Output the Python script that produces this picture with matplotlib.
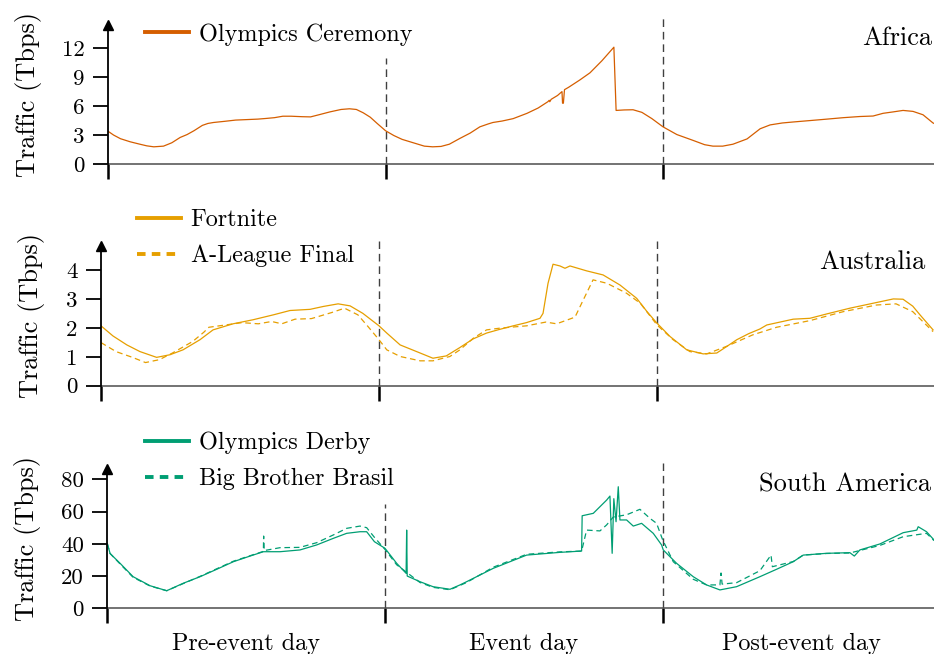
import matplotlib
matplotlib.use("Agg")
import matplotlib.pyplot as plt
from matplotlib.lines import Line2D

plt.rcParams['font.family'] = 'cmr10'
plt.rcParams['mathtext.fontset'] = 'cm'
plt.rcParams['axes.unicode_minus'] = False
plt.rcParams['axes.formatter.use_mathtext'] = True

# ---------------- data (time in days, traffic in Tbps) ----------------
africa_t = [0.000, 0.020, 0.045, 0.080, 0.115, 0.140, 0.165, 0.200, 0.230, 0.260,
            0.285, 0.310, 0.340, 0.360, 0.380, 0.420, 0.460, 0.500, 0.540, 0.570,
            0.600, 0.630, 0.660, 0.700, 0.730, 0.760, 0.800, 0.840, 0.870, 0.895,
            0.920, 0.945, 0.970, 1.000, 1.030, 1.060, 1.100, 1.140, 1.170, 1.200,
            1.230, 1.268, 1.305, 1.340, 1.370, 1.387, 1.420, 1.460, 1.510, 1.550,
            1.585, 1.590, 1.592, 1.597, 1.620, 1.636, 1.638, 1.641, 1.645, 1.660,
            1.700, 1.737, 1.780, 1.823, 1.831, 1.860, 1.892, 1.924, 1.960, 2.000,
            2.050, 2.108, 2.150, 2.180, 2.215, 2.252, 2.303, 2.350, 2.386, 2.430,
            2.468, 2.530, 2.591, 2.650, 2.710, 2.757, 2.793, 2.830, 2.865, 2.901,
            2.937, 2.973, 3.000]
olympics_ceremony = [3.40, 3.00, 2.62, 2.30, 2.05, 1.88, 1.78, 1.85, 2.20, 2.75,
                     3.05, 3.45, 4.00, 4.20, 4.30, 4.42, 4.55, 4.60, 4.65, 4.72,
                     4.80, 4.95, 4.95, 4.90, 4.88, 5.10, 5.40, 5.65, 5.72, 5.65,
                     5.30, 4.85, 4.20, 3.45, 2.95, 2.55, 2.20, 1.85, 1.78, 1.82,
                     2.05, 2.65, 3.20, 3.85, 4.15, 4.30, 4.45, 4.70, 5.25, 5.80,
                     6.45, 6.60, 6.45, 6.70, 7.10, 7.50, 6.30, 6.30, 7.70, 7.95,
                     8.70, 9.45, 10.70, 12.10, 5.55, 5.60, 5.62, 5.35, 4.70, 3.85,
                     3.05, 2.45, 2.00, 1.85, 1.85, 2.05, 2.60, 3.65, 4.05, 4.25,
                     4.35, 4.50, 4.65, 4.80, 4.92, 4.97, 5.25, 5.40, 5.55, 5.45,
                     5.10, 4.25, 3.90]

fortnite_t = [0.000, 0.043, 0.093, 0.140, 0.200, 0.248, 0.295, 0.356, 0.403, 0.475,
              0.547, 0.620, 0.680, 0.752, 0.800, 0.853, 0.896, 0.942, 1.000, 1.028,
              1.076, 1.148, 1.194, 1.242, 1.291, 1.339, 1.387, 1.435, 1.483, 1.530,
              1.579, 1.590, 1.608, 1.626, 1.651, 1.669, 1.687, 1.747, 1.806, 1.867,
              1.927, 1.965, 2.000, 2.047, 2.107, 2.166, 2.215, 2.250, 2.287, 2.330,
              2.370, 2.395, 2.490, 2.550, 2.610, 2.694, 2.777, 2.850, 2.885, 2.920,
              2.946, 2.993]
fortnite = [2.07, 1.72, 1.41, 1.18, 0.98, 1.07, 1.24, 1.59, 1.93, 2.14,
            2.28, 2.45, 2.60, 2.64, 2.74, 2.83, 2.76, 2.50, 2.07, 1.82,
            1.41, 1.13, 0.95, 1.03, 1.32, 1.62, 1.82, 1.95, 2.07, 2.18,
            2.33, 2.50, 3.54, 4.20, 4.14, 4.06, 4.14, 3.97, 3.83, 3.48,
            3.02, 2.55, 2.16, 1.70, 1.24, 1.10, 1.13, 1.35, 1.59, 1.80,
            1.96, 2.10, 2.30, 2.33, 2.48, 2.68, 2.85, 3.00, 2.99, 2.75,
            2.45, 1.93]

aleague_t = [0.000, 0.054, 0.113, 0.160, 0.210, 0.257, 0.330, 0.370, 0.388, 0.448,
             0.507, 0.566, 0.614, 0.650, 0.698, 0.757, 0.830, 0.876, 0.924, 0.960,
             1.000, 1.028, 1.076, 1.148, 1.194, 1.255, 1.291, 1.339, 1.387, 1.435,
             1.531, 1.600, 1.639, 1.705, 1.735, 1.770, 1.820, 1.890, 1.940, 2.000,
             2.058, 2.118, 2.179, 2.250, 2.345, 2.430, 2.550, 2.670, 2.790, 2.860,
             2.920, 2.993]
aleague_final = [1.49, 1.18, 0.98, 0.80, 0.90, 1.13, 1.53, 1.85, 2.02, 2.10,
                 2.18, 2.14, 2.22, 2.14, 2.30, 2.32, 2.53, 2.68, 2.45, 2.05,
                 1.59, 1.24, 1.01, 0.86, 0.86, 1.01, 1.24, 1.64, 1.93, 1.99,
                 2.07, 2.20, 2.14, 2.37, 2.97, 3.66, 3.54, 3.20, 2.85, 2.10,
                 1.59, 1.18, 1.10, 1.36, 1.76, 2.02, 2.25, 2.56, 2.79, 2.83,
                 2.56, 1.87]

derby_t = [0.000, 0.010, 0.046, 0.093, 0.154, 0.214, 0.273, 0.334, 0.394, 0.454,
           0.514, 0.562, 0.622, 0.694, 0.754, 0.814, 0.862, 0.910, 0.934, 0.962,
           1.000, 1.042, 1.076, 1.078, 1.080, 1.126, 1.173, 1.234, 1.270, 1.294,
           1.390, 1.510, 1.630, 1.708, 1.710, 1.750, 1.798, 1.810, 1.818, 1.824,
           1.832, 1.840, 1.846, 1.870, 1.894, 1.924, 1.966, 1.996, 2.002, 2.050,
           2.110, 2.158, 2.206, 2.266, 2.350, 2.410, 2.470, 2.506, 2.590, 2.674,
           2.690, 2.710, 2.782, 2.866, 2.915, 2.920, 2.950, 2.977]
olympics_derby = [40.3, 34.0, 27.9, 19.6, 14.0, 10.9, 15.5, 19.6, 24.2, 28.9,
                  32.4, 35.1, 35.1, 36.2, 39.3, 43.4, 46.5, 47.5, 47.5, 41.3,
                  37.2, 27.9, 21.7, 48.5, 20.0, 16.5, 13.4, 11.8, 14.5, 16.5,
                  24.8, 33.0, 34.7, 35.5, 57.4, 58.9, 67.1, 69.6, 34.1, 68.0,
                  53.7, 75.4, 54.8, 54.8, 51.0, 52.7, 46.5, 39.3, 36.2, 27.9,
                  19.6, 14.5, 11.4, 13.4, 19.6, 24.2, 28.9, 33.0, 34.1, 34.5,
                  32.4, 36.2, 39.9, 46.9, 48.5, 50.6, 47.5, 42.4]

bbb_t = [0.000, 0.010, 0.046, 0.093, 0.154, 0.214, 0.273, 0.334, 0.394, 0.454,
         0.514, 0.562, 0.563, 0.565, 0.622, 0.694, 0.754, 0.814, 0.862, 0.910,
         0.934, 0.962, 1.000, 1.042, 1.126, 1.173, 1.234, 1.294, 1.390, 1.510,
         1.630, 1.708, 1.726, 1.774, 1.798, 1.822, 1.870, 1.918, 1.954, 1.978,
         2.000, 2.038, 2.110, 2.158, 2.206, 2.210, 2.214, 2.266, 2.350, 2.390,
         2.395, 2.470, 2.506, 2.590, 2.674, 2.782, 2.866, 2.950, 2.977]
big_brother_brasil = [40.0, 34.0, 27.5, 19.2, 13.8, 10.9, 15.3, 19.8, 24.5, 29.2,
                      32.6, 35.3, 44.8, 35.8, 37.6, 37.8, 40.7, 45.5, 49.6, 51.0,
                      50.0, 44.0, 36.5, 27.0, 16.0, 13.0, 11.5, 16.0, 25.5, 33.5,
                      35.0, 35.5, 48.5, 48.0, 51.7, 56.6, 58.0, 61.4, 55.8, 52.7,
                      42.4, 28.9, 18.0, 14.5, 14.5, 21.9, 15.0, 15.9, 23.3, 33.0,
                      25.8, 29.0, 33.0, 34.0, 34.3, 39.0, 44.4, 46.5, 42.0]

regions = ["Africa", "Australia", "South America"]
day_labels = ["Pre-event day", "Event day", "Post-event day"]
day_bounds = [1, 2]
yticks_list = [[0, 3, 6, 9, 12], [0, 1, 2, 3, 4], [0, 20, 40, 60, 80]]

C_AF = "#D55E00"
C_AU = "#E69F00"
C_SA = "#009E73"

# ---------------- layout (pixels) ----------------
W, H = 934, 654
fig = plt.figure(figsize=(W / 100, H / 100), dpi=100)

layout = [
    dict(left=108, zero=164, top=25, day=277.5, ytop=14.4, vtops=[11.0, 15.1],
         reg=(932, 45), leg=(145, 23), ylx=42),
    dict(left=101, zero=385.7, top=246, day=278.0, ytop=4.83, vtops=[5.0, 5.0],
         reg=(925, 269), leg=(137, 209), ylx=45),
    dict(left=107.3, zero=608.3, top=469, day=277.7, ytop=86.4, vtops=[64.7, 90.2],
         reg=(931, 491), leg=(145, 432), ylx=41),
]

series = [
    [(africa_t, olympics_ceremony, C_AF, "-", "Olympics Ceremony")],
    [(fortnite_t, fortnite, C_AU, "-", "Fortnite"),
     (aleague_t, aleague_final, C_AU, "--", "A-League Final")],
    [(derby_t, olympics_derby, C_SA, "-", "Olympics Derby"),
     (bbb_t, big_brother_brasil, C_SA, "--", "Big Brother Brasil")],
]

FS = 17.4
for i, (L, ser) in enumerate(zip(layout, series)):
    ax = fig.add_axes([L['left'] / W, (H - L['zero']) / H,
                       3 * L['day'] / W, (L['zero'] - L['top']) / H])
    ax.set_xlim(0, 3)
    ax.set_ylim(0, L['ytop'])
    handles = []
    for t, v, c, ls, lab in ser:
        if ls == "-":
            ax.plot(t, v, color=c, lw=0.9, zorder=3)
            handles.append(Line2D([], [], color=c, lw=2.8, label=lab))
        else:
            ax.plot(t, v, color=c, lw=0.9, ls=(0, (4.5, 3)), zorder=3)
            handles.append(Line2D([], [], color=c, lw=2.8, ls=(0, (2.2, 1.6)), label=lab))
    for b, vt in zip(day_bounds, L['vtops']):
        ax.plot([b, b], [0, vt], color='0.25', lw=1.0, ls=(0, (5.5, 3.5)),
                clip_on=False, zorder=2)
    for s in ['top', 'right']:
        ax.spines[s].set_visible(False)
    ax.spines['left'].set_linewidth(1.3)
    ax.spines['left'].set_zorder(5)
    ax.spines['bottom'].set_color('0.3')
    ax.spines['bottom'].set_linewidth(1.1)
    ax.plot([0], [1], marker='^', color='k', ms=7, transform=ax.transAxes,
            clip_on=False, zorder=6)
    ax.set_yticks(yticks_list[i])
    ax.set_yticklabels([str(y) for y in yticks_list[i]])
    ax.tick_params(axis='y', direction='out', length=10.5, width=1.3,
                   labelsize=16.5, pad=6.5, color='k')
    ax.set_xticks([0, 1, 2, 3])
    ax.tick_params(axis='x', which='major', direction='out', length=10.5,
                   width=1.8, color='k', labelbottom=False)
    if i == 2:
        ax.set_xticks([0.5, 1.5, 2.5], minor=True)
        ax.set_xticklabels(day_labels, minor=True)
        ax.tick_params(axis='x', which='minor', length=0, pad=18, labelsize=FS)
    ax.set_ylabel("Traffic (Tbps)", fontsize=19)
    ax.yaxis.set_label_coords((L['ylx'] - L['left']) / (3 * L['day']), 0.5)
    fig.text(L['reg'][0] / W, 1 - L['reg'][1] / H, regions[i], ha='right',
             va='baseline', fontsize=19)
    ax.legend(handles=handles, loc='upper left',
              bbox_to_anchor=(L['leg'][0] / W, 1 - L['leg'][1] / H),
              bbox_transform=fig.transFigure, frameon=False, fontsize=FS,
              handlelength=1.8, handletextpad=0.42, labelspacing=0.57,
              borderpad=0, borderaxespad=0)

fig.savefig("out.png", dpi=100)
